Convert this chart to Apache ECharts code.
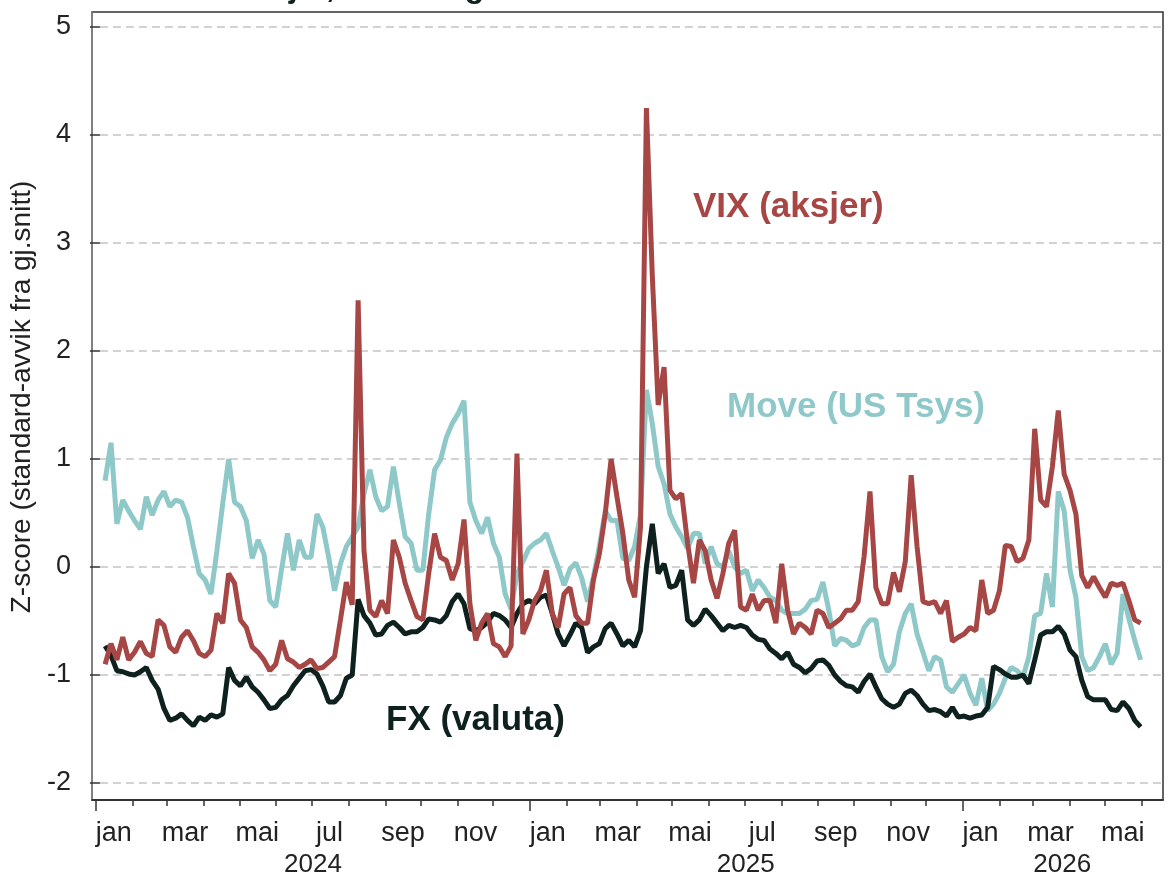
<!DOCTYPE html>
<html>
<head>
<meta charset="utf-8">
<script src="https://cdn.jsdelivr.net/npm/echarts@6/dist/echarts.min.js"></script>
<style>
  html, body { margin: 0; padding: 0; background: #fff; }
  #chart { width: 1176px; height: 881px; }
</style>
</head>
<body>
<div id="chart"></div>
<script>
// z-score series, one value every 5 days from 2 Jan 2024
const startYear = 2024, startMonth = 0, startDay = 2, stepDays = 5;

const vix = [-0.9,-0.71,-0.86,-0.65,-0.86,-0.79,-0.69,-0.8,-0.83,-0.49,
  -0.54,-0.74,-0.79,-0.65,-0.59,-0.68,-0.8,-0.83,-0.77,-0.43,
  -0.52,-0.06,-0.15,-0.49,-0.56,-0.74,-0.79,-0.86,-0.96,-0.9,
  -0.68,-0.85,-0.88,-0.93,-0.9,-0.86,-0.94,-0.93,-0.88,-0.83,
  -0.49,-0.14,-0.35,2.47,0.15,-0.4,-0.46,-0.31,-0.43,0.25,
  0.09,-0.15,-0.31,-0.46,-0.49,-0.06,0.31,0.09,0.06,-0.12,
  0.03,0.44,-0.34,-0.68,-0.52,-0.43,-0.71,-0.74,-0.83,-0.73,
  1.05,-0.62,-0.49,-0.31,-0.22,-0.03,-0.43,-0.56,-0.25,-0.19,
  -0.45,-0.52,-0.52,-0.12,0.12,0.49,1.0,0.65,0.31,-0.12,
  -0.28,0.37,4.25,2.7,1.5,1.85,0.71,0.63,0.68,0.22,
  -0.15,0.25,0.15,-0.12,-0.29,-0.06,0.22,0.34,-0.37,-0.4,
  -0.25,-0.4,-0.31,-0.31,-0.52,0.03,-0.4,-0.62,-0.52,-0.56,
  -0.62,-0.4,-0.43,-0.56,-0.52,-0.48,-0.4,-0.4,-0.32,0.1,
  0.7,-0.19,-0.34,-0.34,-0.05,-0.23,0.05,0.85,0.19,-0.32,
  -0.34,-0.32,-0.43,-0.31,-0.69,-0.65,-0.62,-0.56,-0.59,-0.12,
  -0.43,-0.4,-0.22,0.2,0.19,0.05,0.08,0.25,1.28,0.62,
  0.56,0.93,1.45,0.86,0.71,0.49,-0.08,-0.19,-0.09,-0.19,
  -0.28,-0.15,-0.17,-0.15,-0.31,-0.49,-0.52];

const move = [0.8,1.15,0.4,0.62,0.52,0.43,0.35,0.65,0.48,0.62,
  0.7,0.56,0.62,0.6,0.46,0.19,-0.06,-0.12,-0.25,0.15,
  0.59,1.0,0.6,0.56,0.43,0.08,0.25,0.12,-0.31,-0.37,
  -0.02,0.31,-0.03,0.25,0.09,0.09,0.49,0.37,0.09,-0.22,
  0.03,0.19,0.28,0.37,0.68,0.9,0.65,0.52,0.56,0.93,
  0.59,0.28,0.22,-0.03,-0.03,0.49,0.9,0.99,1.2,1.33,
  1.42,1.54,0.6,0.43,0.31,0.46,0.22,0.09,-0.25,-0.39,
  -0.06,0.05,0.17,0.22,0.25,0.31,0.15,0,-0.17,-0.02,
  0.04,-0.1,-0.32,-0.09,0.19,0.52,0.43,0.43,0.08,0.06,
  0.19,0.49,1.64,1.33,0.93,0.77,0.49,0.37,0.28,0.17,
  0.31,0.31,0.03,0.19,0.03,0,0.15,0,-0.06,-0.03,
  -0.22,-0.12,-0.19,-0.28,-0.31,-0.4,-0.43,-0.43,-0.43,-0.39,
  -0.31,-0.3,-0.14,-0.4,-0.73,-0.66,-0.68,-0.73,-0.71,-0.56,
  -0.49,-0.49,-0.83,-0.97,-0.9,-0.6,-0.43,-0.34,-0.62,-0.79,
  -0.96,-0.83,-0.86,-1.11,-1.16,-1.08,-1.0,-1.17,-1.28,-1.03,
  -1.33,-1.27,-1.17,-1.03,-0.93,-0.96,-1.02,-0.83,-0.45,-0.43,
  -0.06,-0.37,0.7,0.52,-0.03,-0.28,-0.83,-0.96,-0.93,-0.83,
  -0.71,-0.9,-0.8,-0.25,-0.48,-0.68,-0.86];

const fx = [-0.73,-0.82,-0.96,-0.97,-0.99,-1.0,-0.97,-0.93,-1.05,-1.13,
  -1.31,-1.42,-1.4,-1.36,-1.42,-1.47,-1.39,-1.42,-1.37,-1.39,
  -1.36,-0.93,-1.05,-1.1,-1.02,-1.11,-1.16,-1.23,-1.31,-1.3,
  -1.23,-1.19,-1.1,-1.03,-0.96,-0.95,-0.99,-1.1,-1.25,-1.25,
  -1.19,-1.03,-1.0,-0.3,-0.45,-0.52,-0.63,-0.62,-0.54,-0.51,
  -0.56,-0.62,-0.6,-0.6,-0.56,-0.48,-0.49,-0.51,-0.45,-0.32,
  -0.25,-0.34,-0.57,-0.59,-0.56,-0.51,-0.43,-0.45,-0.49,-0.56,
  -0.43,-0.34,-0.31,-0.34,-0.28,-0.26,-0.43,-0.62,-0.73,-0.63,
  -0.52,-0.56,-0.79,-0.74,-0.71,-0.57,-0.52,-0.62,-0.73,-0.68,
  -0.74,-0.59,0.0,0.4,-0.06,0.03,-0.19,-0.17,-0.03,-0.49,
  -0.54,-0.49,-0.39,-0.45,-0.52,-0.59,-0.54,-0.56,-0.54,-0.56,
  -0.63,-0.67,-0.68,-0.76,-0.8,-0.85,-0.79,-0.9,-0.93,-0.98,
  -0.94,-0.87,-0.86,-0.91,-1.0,-1.06,-1.1,-1.11,-1.16,-1.06,
  -0.99,-1.11,-1.22,-1.27,-1.3,-1.27,-1.17,-1.14,-1.19,-1.27,
  -1.33,-1.32,-1.34,-1.38,-1.3,-1.39,-1.38,-1.4,-1.38,-1.37,
  -1.3,-0.92,-0.95,-0.99,-1.02,-1.02,-1.0,-1.08,-0.86,-0.63,
  -0.6,-0.6,-0.55,-0.62,-0.77,-0.83,-1.05,-1.2,-1.23,-1.23,
  -1.23,-1.32,-1.33,-1.25,-1.31,-1.42,-1.48];

const monthNames = ['jan','feb','mar','apr','mai','jun','jul','aug','sep','okt','nov','des'];
const years = [2024, 2025, 2026];
const yearLabelPos = [new Date(2024, 6, 2), new Date(2025, 6, 2), new Date(2026, 2, 26)].map(d => d.getTime());

const dates = vix.map((_, i) => new Date(startYear, startMonth, startDay + stepDays * i).getTime());
const xMin = new Date(2023, 11, 28, 14).getTime();
const xMax = new Date(2026, 5, 19).getTime();

const monthStarts = [];
const monthMids = [];
for (const y of years) {
  for (let m = 0; m < 12; m++) {
    const t = new Date(y, m, 1).getTime();
    if (t > xMax) break;
    monthStarts.push(t);
    if (m % 2 === 0) monthMids.push(new Date(y, m, 16).getTime());
  }
}
const yearStarts = years.map(y => new Date(y, 0, 1).getTime());

const font = 'Liberation Sans, Arial, sans-serif';
const colVix = '#a64745', colMove = '#8ec8c8', colFx = '#0e211f';

const chart = echarts.init(document.getElementById('chart'));
const option = {
  animation: false,
  backgroundColor: '#fff',
  textStyle: { fontFamily: font },
  title: {
    text: 'Volatilitet i aksjer, valuta og renter',
    left: 62,
    top: -33,
    textStyle: { fontSize: 32, fontWeight: 'bold', color: colFx, fontFamily: font }
  },
  grid: [
    { left: 92, right: 13, top: 12, bottom: 81, show: true, borderColor: '#333', borderWidth: 1.5 },
    { left: 92, right: 13, top: 27, bottom: 98 }
  ],
  xAxis: [
    {
      gridIndex: 0, type: 'value', position: 'bottom', min: xMin, max: xMax,
      axisLine: { show: true, onZero: false, lineStyle: { color: '#222', width: 1.5 } },
      axisTick: { show: true, length: 6, customValues: monthStarts, lineStyle: { color: '#333', width: 1.5 } },
      axisLabel: {
        customValues: monthMids, fontSize: 27, margin: 20, color: '#222',
        formatter: v => monthNames[new Date(v).getMonth()]
      },
      splitLine: { show: false }
    },
    {
      gridIndex: 0, type: 'value', position: 'bottom', min: xMin, max: xMax,
      axisLine: { show: false, onZero: false },
      axisTick: { show: true, length: 11, customValues: yearStarts, lineStyle: { color: '#333', width: 1.5 } },
      axisLabel: {
        customValues: yearLabelPos, fontSize: 26, margin: 52, color: '#222',
        formatter: v => String(new Date(v).getFullYear())
      },
      splitLine: { show: false }
    },
    { gridIndex: 1, type: 'value', min: xMin, max: xMax, show: false }
  ],
  yAxis: [
    {
      gridIndex: 0, type: 'value', min: 0, max: 1,
      axisLine: { show: true, lineStyle: { color: '#8a8a8a', width: 1.5 } },
      axisTick: { show: false }, axisLabel: { show: false }, splitLine: { show: false }
    },
    {
      gridIndex: 1, type: 'value', min: -2, max: 5, interval: 1,
      axisLine: { show: false },
      axisTick: { show: true, length: 10, lineStyle: { color: '#333', width: 1.5 } },
      axisLabel: { fontSize: 27, color: '#222', margin: 29 },
      splitLine: { show: true, lineStyle: { color: '#c4c4c4', width: 1.5, type: [8, 5] } },
      name: 'Z-score (standard-avvik fra gj.snitt)',
      nameLocation: 'middle',
      nameGap: 44,
      nameTextStyle: { fontSize: 28, color: '#222', padding: [0, 0, 0, 16] }
    }
  ],
  graphic: [
    { type: 'text', left: 693, top: 190, style: { text: 'VIX (aksjer)', fill: colVix, font: 'bold 35px ' + font } },
    { type: 'text', left: 727, top: 390, style: { text: 'Move (US Tsys)', fill: colMove, font: 'bold 35px ' + font } },
    { type: 'text', left: 386, top: 703, style: { text: 'FX (valuta)', fill: colFx, font: 'bold 35px ' + font } }
  ],
  series: [
    {
      name: 'Move', type: 'line', xAxisIndex: 2, yAxisIndex: 1, symbol: 'none',
      lineStyle: { width: 5, color: colMove }, itemStyle: { color: colMove },
      data: dates.map((d, i) => [d, move[i]])
    },
    {
      name: 'FX', type: 'line', xAxisIndex: 2, yAxisIndex: 1, symbol: 'none',
      lineStyle: { width: 5, color: colFx }, itemStyle: { color: colFx },
      data: dates.map((d, i) => [d, fx[i]])
    },
    {
      name: 'VIX', type: 'line', xAxisIndex: 2, yAxisIndex: 1, symbol: 'none',
      lineStyle: { width: 5, color: colVix }, itemStyle: { color: colVix },
      data: dates.map((d, i) => [d, vix[i]])
    }
  ]
};
chart.setOption(option);
</script>
</body>
</html>
